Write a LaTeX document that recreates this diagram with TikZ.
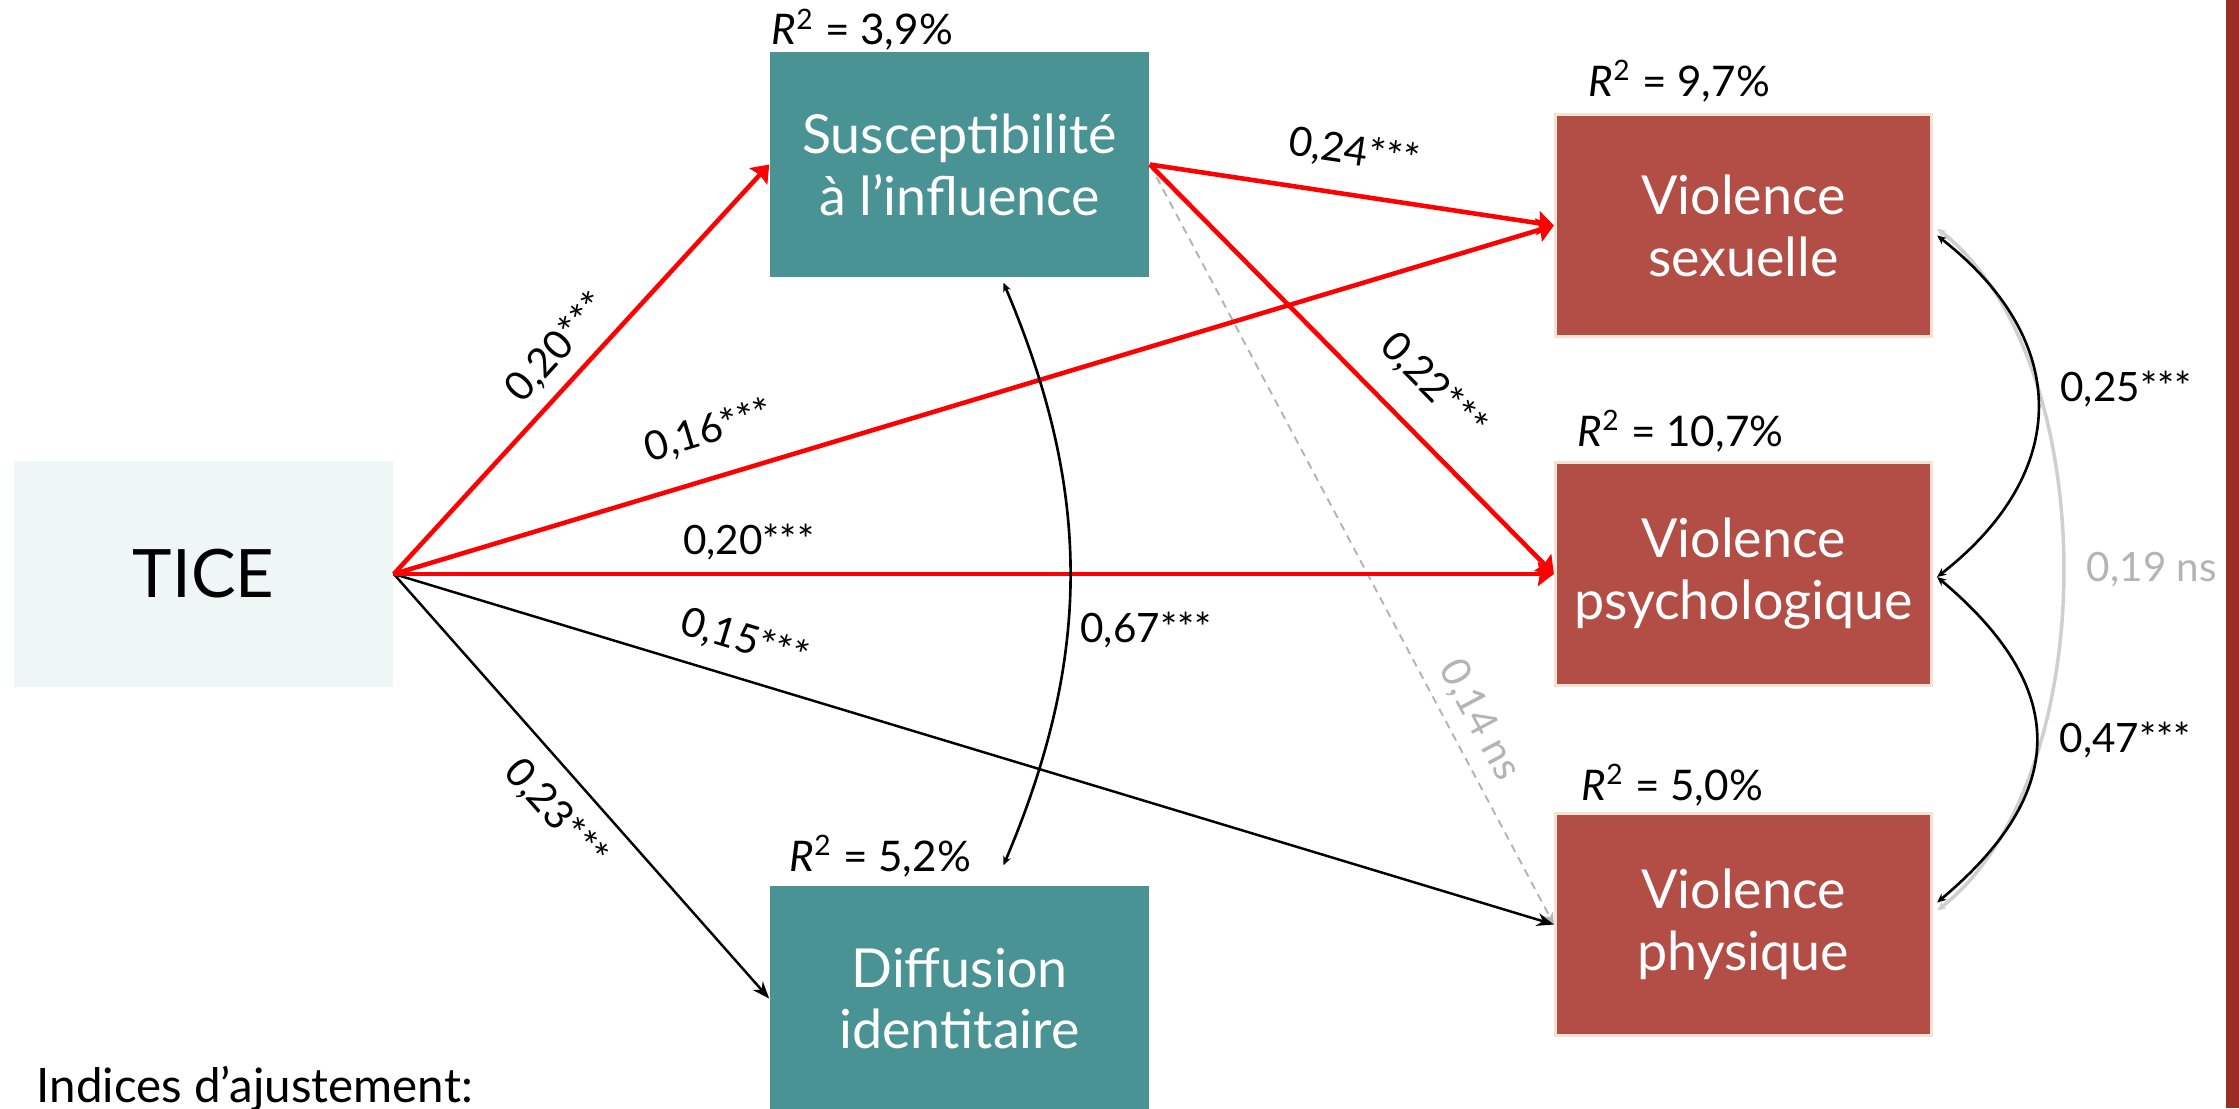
\documentclass[tikz,border=0pt]{standalone}
\usepackage{fontspec}
\setmainfont{Lato}
\usetikzlibrary{calc}
\usetikzlibrary{arrows.meta}

\definecolor{tealbox}{HTML}{4A9394}
\definecolor{redbox}{HTML}{B34E46}
\definecolor{rededge}{HTML}{F3E3D3}
\definecolor{ticefill}{HTML}{EFF7F6}
\definecolor{sidebar}{HTML}{9B2D23}
\definecolor{nsgray}{HTML}{B4B4B4}
\definecolor{nsline}{HTML}{CFCFCF}

\newcommand{\rdeux}[1]{\textit{R}\textsuperscript{2} = #1\%}

\tikzset{
  mediator/.style={fill=tealbox, text=white, minimum width=3.79cm, minimum height=2.25cm,
    inner sep=0pt, align=center, font=\fontsize{15.3}{17.6}\selectfont},
  outcome/.style={fill=redbox, draw=rededge, line width=0.03cm, text=white, minimum width=3.76cm,
    minimum height=2.22cm, inner sep=0pt, align=center, font=\fontsize{15.3}{17.6}\selectfont},
  rsq/.style={anchor=base west, inner sep=0pt, font=\fontsize{12}{14}\selectfont},
  coef/.style={sloped, text=black, font=\fontsize{11.5}{14}\selectfont},
  sigpath/.style={red, line width=1.3pt, -{Stealth[length=0.16cm, width=0.24cm, inset=0.02cm]}},
  plainpath/.style={black, line width=0.7pt, -{Stealth[length=0.17cm, width=0.13cm]}},
  nspath/.style={nsgray, line width=0.55pt, dash pattern=on 0.08cm off 0.06cm, -{Stealth[length=0.12cm, width=0.1cm]}},
  covpath/.style={black, line width=0.75pt, {Stealth[length=0.09cm, width=0.08cm]}-{Stealth[length=0.09cm, width=0.08cm]}},
}

\begin{document}
\begin{tikzpicture}[x=0.01cm, y=0.01cm]
\useasboundingbox (0,0) rectangle (2239,-1108);
\fill[sidebar] (2226,0) rectangle (2239,-1108);

% boxes
\node[fill=ticefill, minimum width=3.79cm, minimum height=2.26cm, inner sep=0pt,
  font=\fontsize{19}{22}\selectfont] (tice) at (203.5,-574) {TICE};
\node[mediator] (susc) at (959.5,-164.5) {Susceptibilité\\à l’influence};
\node[mediator] (diff) at (959.5,-998.5) {Diffusion\\identitaire};
\node[outcome] (vsex) at (1743.5,-225.5) {Violence\\sexuelle};
\node[outcome] (vpsy) at (1743.5,-574) {Violence\\psychologique};
\node[outcome] (vphy) at (1743.5,-924.5) {Violence\\physique};

% R2
\node[rsq] (rsusc) at (771,-44.6) {\rdeux{3,9}};
\node[rsq] (rdiff) at (789,-871) {\rdeux{5,2}};
\node[rsq] (rvsex) at (1588,-96) {\rdeux{9,7}};
\node[rsq] (rvpsy) at (1577,-446) {\rdeux{10,7}};
\node[rsq] (rvphy) at (1581,-800) {\rdeux{5,0}};

\node[anchor=base west, inner sep=0pt, font=\fontsize{13.5}{16}\selectfont] (indices) at (36,-1102) {Indices d’ajustement:};

% paths
\draw[nspath] (susc.east) -- node[coef, pos=0.75, above, text=nsgray] {0,14 ns} (vphy.west);
\draw[plainpath] (tice.east) -- node[coef, pos=0.507, below=2pt] {0,23***} (diff.west);
\draw[plainpath] (tice.east) -- node[coef, pos=0.293, above=2pt] {0,15***} (vphy.west);
\draw[sigpath] (tice.east) -- node[coef, pos=0.5, above] {0,20***} (susc.west);
\draw[sigpath] (tice.east) -- node[coef, pos=0.283, above=4pt] {0,16***} (vsex.west);
\draw[sigpath] (tice.east) -- node[coef, pos=0.306, above] {0,20***} (vpsy.west);
\draw[sigpath] (susc.east) -- node[coef, pos=0.49, above=3pt] {0,24***} (vsex.west);
\draw[sigpath] (susc.east) -- node[coef, pos=0.62, above=4pt] {0,22***} (vpsy.west);

% covariances
\draw[covpath] ($(susc.south)+(44,-5)$) to[bend left=23]
  node[pos=0.6, right, font=\fontsize{11.5}{14}\selectfont] {0,67***} ($(diff.north)+(44,20)$);
\draw[covpath, nsline, line width=1pt] ($(vsex.east)+(4,-3)$) to[out=-38, in=38, looseness=0.8]
  node[pos=0.5, right=3pt, text=nsgray, font=\fontsize{11.5}{14}\selectfont] {0,19 ns} ($(vphy.east)+(4,14)$);
\draw[covpath] ($(vsex.east)+(4,-10)$) to[out=-38, in=38, looseness=1.28]
  node[pos=0.45, right=3pt, font=\fontsize{11.5}{14}\selectfont] {0,25***} ($(vpsy.east)+(4,-3)$);
\draw[covpath] ($(vpsy.east)+(4,-3)$) to[out=-40, in=40, looseness=1.36]
  node[pos=0.5, right=3pt, font=\fontsize{11.5}{14}\selectfont] {0,47***} ($(vphy.east)+(4,22)$);
\end{tikzpicture}
\end{document}
